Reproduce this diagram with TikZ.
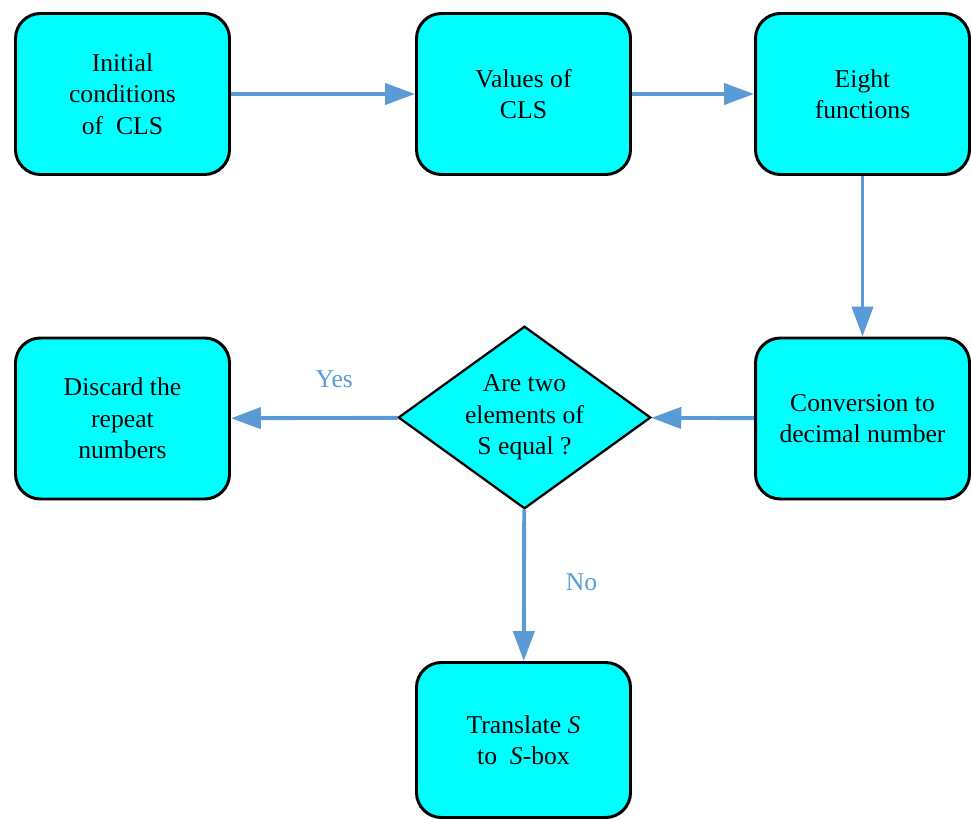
\documentclass[tikz,border=0pt]{standalone}
\usepackage{fontspec}
\setmainfont{Liberation Serif}
\usetikzlibrary{arrows.meta,shapes.geometric,shadows}
\definecolor{flowcyan}{HTML}{00FFFF}
\definecolor{flowblue}{HTML}{5B9BD5}
\tikzset{
  box/.style={draw=black, line width=1.7pt, fill=flowcyan, rounded corners=0.5cm,
    minimum width=4.28cm, minimum height=3.22cm, align=center,
    drop shadow={shadow xshift=0.8pt, shadow yshift=-0.8pt, opacity=0.25, fill=flowblue!40}},
  decide/.style={draw=black, line width=1.3pt, fill=flowcyan, diamond, aspect=1.38,
    minimum width=5.05cm, minimum height=3.65cm, inner sep=0pt, align=center,
    drop shadow={shadow xshift=0.8pt, shadow yshift=-0.8pt, opacity=0.25, fill=flowblue!40}},
  flow/.style={draw=flowblue, line width=2.2pt, -{Triangle[length=17pt,width=12pt]}},
  answer/.style={text=flowblue}
}
\begin{document}
\begin{tikzpicture}[font=\fontsize{14.6}{17.9}\selectfont]
      \useasboundingbox (0,0) rectangle (19.42,-16.4);
      \node[box] (init) at (2.45,-1.88) {Initial\\conditions\\of~ CLS};
      \node[box] (values) at (10.47,-1.88) {Values of\\CLS};
      \node[box] (eight) at (17.25,-1.88) {Eight\\functions};
      \node[box] (convert) at (17.25,-8.37) {Conversion to\\decimal number};
      \node[decide] (equal) at (10.49,-8.35) {Are two\\elements of\\S equal ?};
      \node[box] (discard) at (2.45,-8.37) {Discard the\\repeat\\numbers};
      \node[box, minimum height=3.1cm] (translate) at (10.47,-14.8) {Translate \textit{S}\\to~ \textit{S}-box};
      \draw[flow] (init) -- (values);
      \draw[flow] (values) -- (eight);
      \draw[flow] (eight) -- (convert);
      \draw[flow] (convert) -- (equal);
      \draw[flow] (equal) -- node[answer, pos=0.38, above=0.45cm] {Yes} (discard);
      \draw[flow] (equal) -- node[answer, pos=0.48, right=0.68cm] {No} (translate);
    \end{tikzpicture}
\end{document}
